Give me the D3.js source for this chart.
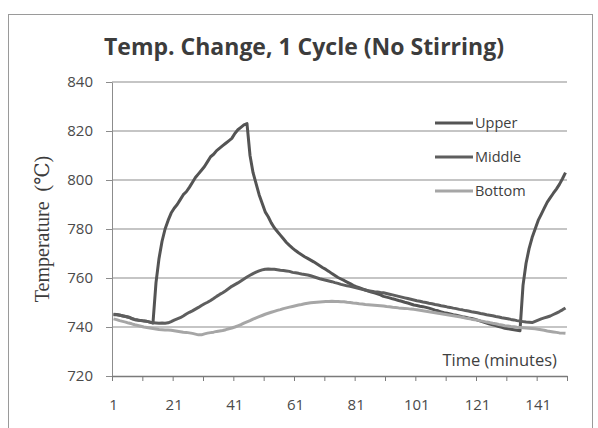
<!DOCTYPE html>
<html>
<head>
<meta charset="utf-8">
<script src="https://cdn.jsdelivr.net/npm/d3@7"></script>
<style>
  body { margin: 0; background: #fff; }
  svg { display: block; }
</style>
</head>
<body>
<div id="chart"></div>
<script>
// readings per minute (1..150)
const upper = [
  745.0, 745.0, 744.8, 744.6, 744.3, 744.0, 743.5, 743.0, 742.8, 742.7, 742.5, 742.3, 742.0, 741.6,
  758, 768, 775, 780, 783.5, 786.5, 788.5, 790, 792, 794, 795.2, 797, 799, 801, 802.5, 804,
  805.5, 807.5, 809.5, 810.5, 812, 813, 814, 815, 816, 817, 819, 820.5, 821.5, 822.5, 823,
  810, 803, 798.5, 794, 790.5, 787, 785, 782.5, 780.5, 779, 777.5, 776, 774.5, 773.3, 772.2,
  771.2, 770.3, 769.5, 768.7, 768, 767.3, 766.6, 765.8, 765, 764.2, 763.5, 762.7, 761.8, 761, 760.2, 759.6, 759, 758.3, 757.7, 757,
  756.5, 756.1, 755.6, 755.1, 754.7, 754.3, 753.9, 753.5, 753.1, 752.5,
  752.2, 751.9, 751.5, 751.2, 750.8, 750.5, 750.1, 749.8, 749.4, 749.0,
  748.8, 748.5, 748.3, 748.0, 747.7, 747.3, 746.9, 746.6, 746.2, 745.8,
  745.6, 745.3, 745.0, 744.8, 744.5, 744.2, 744.0, 743.7, 743.5, 743.2,
  742.8, 742.4, 742.0, 741.6, 741.2, 740.9, 740.6, 740.2, 739.9, 739.5,
  739.3, 739.1, 738.9, 738.7, 738.5,
  757, 766, 772, 776.5, 780, 783.5, 786, 788.5, 791, 792.8, 794.6, 796.3, 798.2, 800.5, 803
];
const middle = [
  745.2, 745.1, 744.9, 744.5, 744.3, 744.0, 743.4, 743.1, 742.9, 742.6, 742.4, 742.3, 742.0, 741.7,
  741.6, 741.5, 741.6, 741.5, 741.7, 742.2, 742.8, 743.3, 743.8, 744.5, 745.3, 746.0, 746.6, 747.3, 748.0, 748.8,
  749.5, 750.1, 750.8, 751.6, 752.5, 753.3, 754.0, 754.8, 755.7, 756.6, 757.3, 758.0, 758.8, 759.6, 760.4,
  761.1, 761.8, 762.4, 762.9, 763.3, 763.6, 763.7, 763.6, 763.6, 763.4, 763.2, 763.1, 762.9, 762.7, 762.3,
  762.1, 761.9, 761.6, 761.4, 761.2, 760.9, 760.5, 760.1, 759.7, 759.4, 759.1, 758.8, 758.5, 758.1, 757.8, 757.4, 757.1, 756.8, 756.6, 756.3,
  756.0, 755.7, 755.4, 755.1, 754.8, 754.6, 754.4, 754.3, 754.1, 754.0,
  753.7, 753.4, 753.1, 752.8, 752.5, 752.2, 751.9, 751.6, 751.3, 751.0,
  750.7, 750.5, 750.2, 750.0, 749.7, 749.5, 749.2, 749.0, 748.7, 748.5,
  748.2, 748.0, 747.7, 747.5, 747.2, 747.0, 746.7, 746.5, 746.2, 746.0,
  745.8, 745.5, 745.3, 745.0, 744.8, 744.6, 744.3, 744.1, 743.8, 743.6,
  743.4, 743.1, 742.9, 742.6, 742.4, 742.2, 742.0, 741.9, 741.8, 742.3,
  742.8, 743.3, 743.7, 744.1, 744.5, 745.1, 745.7, 746.3, 747.0, 747.8
];
const bottom = [
  743.3, 743.0, 742.6, 742.3, 742.0, 741.6, 741.3, 740.9, 740.6, 740.3,
  740.0, 739.8, 739.6, 739.4, 739.2, 739.0, 738.9, 738.8, 738.8, 738.7,
  738.5, 738.3, 738.1, 737.9, 737.8, 737.6, 737.4, 737.1, 736.8, 736.8,
  737.2, 737.5, 737.7, 737.9, 738.2, 738.4, 738.6, 738.9, 739.3, 739.6,
  740.0, 740.5, 741.0, 741.6, 742.1, 742.6, 743.2, 743.7, 744.2, 744.7,
  745.2, 745.6, 746.0, 746.4, 746.8, 747.1, 747.5, 747.8, 748.1, 748.4,
  748.7, 749.0, 749.2, 749.5, 749.7, 749.9, 750.0, 750.1, 750.2, 750.3,
  750.4, 750.4, 750.5, 750.4, 750.4, 750.3, 750.3, 750.1, 750.0, 749.8,
  749.7, 749.5, 749.4, 749.2, 749.1, 749.0, 748.9, 748.8, 748.7, 748.6,
  748.4, 748.3, 748.1, 748.0, 747.8, 747.7, 747.6, 747.5, 747.3, 747.2,
  747.0, 746.8, 746.6, 746.4, 746.2, 746.0, 745.8, 745.6, 745.4, 745.2,
  745.0, 744.8, 744.6, 744.4, 744.2, 744.0, 743.7, 743.5, 743.2, 743.0,
  742.8, 742.5, 742.3, 742.0, 741.8, 741.5, 741.3, 741.0, 740.8, 740.5,
  740.4, 740.2, 740.1, 739.9, 739.8, 739.7, 739.6, 739.5, 739.4, 739.3,
  739.1, 738.9, 738.7, 738.4, 738.2, 738.0, 737.8, 737.6, 737.5, 737.4
];
const seriesNames = ["Upper", "Middle", "Bottom"];
const yTicks = [720, 740, 760, 780, 800, 820, 840];
const xLabels = [1, 21, 41, 61, 81, 101, 121, 141];

const W = 598, H = 428;
const margin = { top: 82, right: 31, bottom: 52, left: 112 };
const width = W - margin.left - margin.right;
const height = H - margin.top - margin.bottom;
const font = "'Open Sans', 'Liberation Sans', sans-serif";

const svg = d3.select("#chart").append("svg")
  .attr("width", W)
  .attr("height", H);

// chart frame (bottom edge is cut off in the scan)
svg.append("rect")
  .attr("x", 8.5).attr("y", 14.5)
  .attr("width", 584).attr("height", 440)
  .attr("fill", "none")
  .attr("stroke", "#9a9a9a");

svg.append("text")
  .attr("x", 304).attr("y", 55)
  .attr("text-anchor", "middle")
  .attr("font-family", font)
  .attr("font-weight", 700)
  .attr("font-size", 23)
  .attr("fill", "#3c3c3c")
  .text("Temp. Change, 1 Cycle (No Stirring)");

const g = svg.append("g")
  .attr("transform", `translate(${margin.left},${margin.top})`);

const n = upper.length;
const x = d3.scaleLinear().domain([0, n]).range([0, width]);
const y = d3.scaleLinear().domain([720, 840]).range([height, 0]);

// gridlines
g.selectAll(".grid")
  .data(yTicks.filter(d => d > 720))
  .enter().append("line")
  .attr("x1", 0).attr("x2", width)
  .attr("y1", d => y(d)).attr("y2", d => y(d))
  .attr("stroke", "#8c8c8c")
  .attr("stroke-width", 1.2);

// y axis
const yAxis = g.append("g")
  .call(d3.axisLeft(y).tickValues(yTicks).tickSize(6).tickSizeOuter(0).tickPadding(13));
yAxis.select(".domain").attr("stroke", "#8c8c8c");
yAxis.selectAll(".tick line").attr("stroke", "#8c8c8c");
yAxis.selectAll("text")
  .attr("font-family", font).attr("font-size", 15).attr("fill", "#4a4a4a");

// x axis: ticks every 10 minutes, labels every 20
const xAxis = g.append("g")
  .attr("transform", `translate(0,${height})`)
  .call(d3.axisBottom(x).tickValues(d3.range(0, n + 1, 10)).tickSize(5).tickSizeOuter(0).tickFormat(""));
xAxis.select(".domain").attr("stroke", "#7a7a7a").attr("stroke-width", 1.5);
xAxis.selectAll(".tick line").attr("stroke", "#7a7a7a");

g.selectAll(".xlab")
  .data(xLabels)
  .enter().append("text")
  .attr("x", d => x(d - 0.5))
  .attr("y", height + 34)
  .attr("text-anchor", "middle")
  .attr("font-family", font).attr("font-size", 15).attr("fill", "#4a4a4a")
  .text(d => d);

g.append("text")
  .attr("x", width - 10).attr("y", height - 10)
  .attr("text-anchor", "end")
  .attr("font-family", font).attr("font-size", 16.5).attr("fill", "#404040")
  .text("Time (minutes)");

svg.append("text")
  .attr("transform", `translate(49,${margin.top + y(780)}) rotate(-90)`)
  .attr("text-anchor", "middle")
  .attr("font-family", "'Liberation Serif', 'DejaVu Serif', serif")
  .attr("font-size", 20)
  .attr("fill", "#3c3c3c")
  .attr("xml:space", "preserve")
  .text("Temperature  (\u2103)");

// lines
const series = [
  { name: seriesNames[0], values: upper, color: "#545454", w: 3 },
  { name: seriesNames[1], values: middle, color: "#5e5e5e", w: 3 },
  { name: seriesNames[2], values: bottom, color: "#a6a6a6", w: 3 }
];

const line = d3.line()
  .x((d, i) => x(i + 0.5))
  .y(d => y(d));

g.selectAll(".series")
  .data(series)
  .enter().append("path")
  .attr("d", d => line(d.values))
  .attr("fill", "none")
  .attr("stroke", d => d.color)
  .attr("stroke-width", d => d.w)
  .attr("stroke-linejoin", "round");

// legend
const legend = svg.append("g")
  .selectAll("g")
  .data(series)
  .enter().append("g")
  .attr("transform", (d, i) => `translate(435,${123 + i * 34})`);

legend.append("line")
  .attr("x1", 0).attr("x2", 38)
  .attr("stroke", d => d.color)
  .attr("stroke-width", d => d.w);

legend.append("text")
  .attr("x", 40).attr("y", 5)
  .attr("font-family", font).attr("font-size", 14.5).attr("fill", "#404040")
  .text(d => d.name);
</script>
</body>
</html>
